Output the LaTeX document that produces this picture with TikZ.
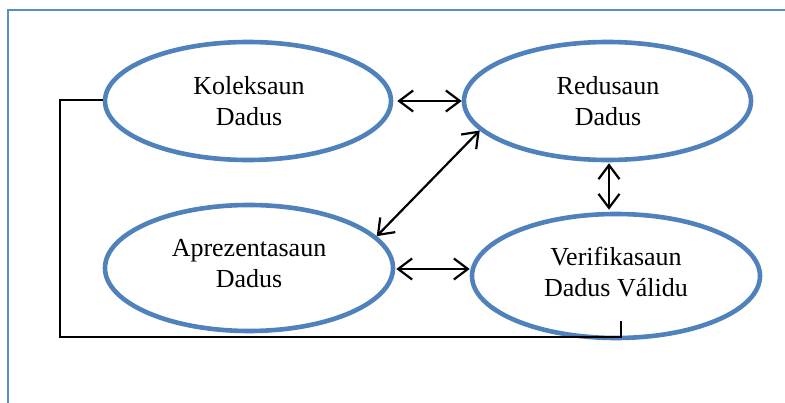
\documentclass[tikz,border=0pt]{standalone}
\usepackage{fontspec}
\setmainfont{Liberation Serif}
\usetikzlibrary{arrows.meta,shapes.geometric}
\definecolor{ellblue}{RGB}{79,129,189}
\definecolor{frameblue}{RGB}{91,139,201}
\tikzset{
  ell/.style={draw=ellblue, line width=4.6pt, ellipse, inner sep=0pt, fill=white},
  lbl/.style={align=center, font=\fontsize{26}{31}\selectfont, inner sep=0pt},
  arr/.style={draw=black, line width=2.2pt, {Straight Barb[length=14pt,width=21pt]}-{Straight Barb[length=14pt,width=21pt]}},
  fb/.style={draw=black, line width=2.4pt},
  frame/.style={draw=frameblue, line width=2.2pt}
}
\begin{document}
\begin{tikzpicture}[x=1pt,y=-1pt]
\useasboundingbox (0,0) rectangle (785,403);
\fill[white] (0,0) rectangle (785,403);
\draw[frame] (8,405) -- (8,10) -- (787,10);

\node[ell, minimum width=286pt, minimum height=118pt] (kol) at (248,101) {};
\node[ell, minimum width=287pt, minimum height=118pt] (red) at (607.5,101) {};
\node[ell, minimum width=288pt, minimum height=126pt] (apr) at (249,268) {};
\node[ell, minimum width=288pt, minimum height=124pt] (ver) at (616,276) {};

\node[lbl] (tkol) at (249,101) {Koleksaun\\Dadus};
\node[lbl] (tred) at (608,101) {Redusaun\\Dadus};
\node[lbl] (tapr) at (249,264) {Aprezentasaun\\Dadus};
\node[lbl] (tver) at (616,272) {Verifikasaun\\Dadus Válidu};

% connectors
\draw[arr, shorten <=4pt] (kol.east) -- (red.west);
\draw[arr, shorten <=1pt, shorten >=2pt] ([xshift=1.5pt]red.south) -- ([xshift=1.5pt]red.south |- ver.north);
\draw[arr, shorten <=1pt] ([yshift=-1pt]apr.east) -- ([yshift=-1pt]apr.east -| ver.west);
\draw[arr] (apr.14) -- (red.193);

% feedback line
\coordinate (c2) at (60,337);
\coordinate (c3) at (621,337);
\coordinate (c4) at (621,321);
\draw[fb] ([yshift=1pt]kol.west) -| (c2) -- (c3) -- (c4);
\end{tikzpicture}
\end{document}
